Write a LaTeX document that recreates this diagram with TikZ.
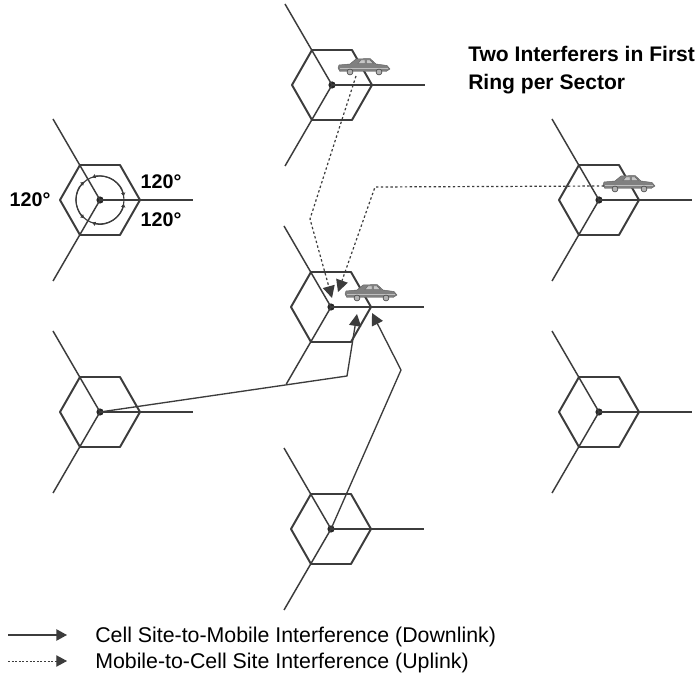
\documentclass[tikz,border=0pt]{standalone}
\usepackage{fontspec}
\setmainfont{Liberation Sans}
\usetikzlibrary{arrows.meta,calc}
\definecolor{ink}{HTML}{3C3C3C}
\tikzset{
  hexline/.style={draw=ink,line width=1.45pt,line join=round},
  spoke/.style={draw=ink,line width=1.1pt},
  sitedot/.style={circle,fill=black!85,inner sep=0pt,minimum size=5.4pt},
  solidlink/.style={draw=ink,line width=1pt,line join=round,-{Triangle[length=9pt,width=9pt,fill=ink]}},
  dotlink/.style={draw=ink,line width=0.9pt,line join=round,dash pattern=on 1.8pt off 1.8pt,-{Triangle[length=9pt,width=9pt,fill=ink]}},
  legendsolid/.style={draw=ink,line width=1.1pt,-{Triangle[length=8pt,width=8.5pt,fill=ink]}},
  legenddot/.style={draw=ink,line width=0.7pt,dash pattern=on 1.5pt off 1.2pt,-{Triangle[length=8pt,width=8.5pt,fill=ink]}},
  anglecircle/.style={draw=ink,line width=0.85pt},
  anglearc/.style={draw=ink,line width=0.85pt,{Triangle[length=2.6pt,width=3pt,fill=ink]}-{Triangle[length=2.6pt,width=3pt,fill=ink]}},
  headline/.style={font=\bfseries\fontsize{15.8pt}{18pt}\selectfont,anchor=base west,inner sep=0pt},
  anglelabel/.style={font=\bfseries\fontsize{14.8pt}{17pt}\selectfont,inner sep=0pt},
  legendtext/.style={font=\fontsize{16pt}{19pt}\selectfont,anchor=base west,inner sep=0pt},
  carbody/.style={fill=black!50,draw=black!62,line width=0.35pt,line join=round},
  carglass/.style={fill=black!22,draw=black!62,line width=0.3pt},
  carwheel/.style={circle,fill=black!30,draw=black!70,line width=0.5pt,inner sep=0pt,minimum size=4.4pt}
}
% \cellsite[lower spoke dy]{name}{x}{y}
\newcommand{\cellsite}[4][81]{%
  \node[sitedot] (#2) at (#3,#4) {};
  \coordinate (#2r) at (#3+93,#4);
  \coordinate (#2u) at (#3-47,#4-81);
  \coordinate (#2d) at (#3-0.58*#1,#4+#1);
  \draw[hexline] (#3+40,#4) -- (#3+20,#4-35) -- (#3-20,#4-35) -- (#3-40,#4) -- (#3-20,#4+35) -- (#3+20,#4+35) -- cycle;
  \draw[spoke] (#2.center) -- (#2r);
  \draw[spoke] (#2.center) -- (#2u);
  \draw[spoke] (#2.center) -- (#2d);
}
% \carshape{name}{x}{y}  (x,y = centre of car)
\newcommand{\carshape}[3]{%
  \coordinate (#1) at (#2,#3);
  \begin{scope}[shift={(#2,#3)}]
    \path[carbody] (-25,-3) -- (-14,-4) -- (-8,-9) -- (6,-9.5) -- (12,-4) -- (23,-2.5) -- (26,1) -- (22,3.5) -- (-24,3.5) -- (-26,0) -- cycle;
    \path[carglass] (-6,-4.5) -- (-3,-8) -- (1,-8) -- (1,-4.5) -- cycle;
    \path[carglass] (2.5,-4.5) -- (2.5,-8) -- (6,-8) -- (9.5,-4.5) -- cycle;
    \draw[black!25,line width=0.5pt] (-24,0) -- (24,0);
    \node[carwheel] (#1a) at (-14,4) {};
    \node[carwheel] (#1b) at (15,4) {};
  \end{scope}
}
\begin{document}
\begin{tikzpicture}[x=0.75pt,y=-0.75pt]
\useasboundingbox (0,0) rectangle (697,677);
\fill[white] (0,0) rectangle (697,677);
\cellsite{top}{332}{85}
\cellsite[77]{mid}{331}{307}
\cellsite{bot}{331}{529}
\cellsite{west}{100}{200}
\cellsite{sw}{100}{412}
\cellsite{east}{599}{200}
\cellsite{se}{599}{412}
% 120 degree circle
\draw[anglecircle] (west.center) circle[radius=18pt];
\draw[anglearc] ($(west)+(9:18pt)$) arc[start angle=9,end angle=109,radius=18pt];
\draw[anglearc] ($(west)+(131:18pt)$) arc[start angle=131,end angle=229,radius=18pt];
\draw[anglearc] ($(west)+(251:18pt)$) arc[start angle=251,end angle=351,radius=18pt];
\node[anglelabel] (ang1) at (161,182) {120°};
\node[anglelabel] (ang2) at (161,220) {120°};
\node[anglelabel] (ang3) at (30,200) {120°};
% connectors
\coordinate (topbend) at (310,219);
\coordinate (eastbend) at (375,187);
\coordinate (dotA) at (332,298);
\coordinate (dotB) at (338,292);
\coordinate (swbend) at (347,376);
\coordinate (botbend) at (401,370);
\coordinate (hitA) at (357,314);
\coordinate (hitB) at (372,313);
\carshape{cartop}{364}{68}
\carshape{carmid}{371}{294}
\carshape{careast}{629}{185}
\draw[dotlink] (cartop) ++(-8,8) -- (topbend) -- (dotA);
\draw[dotlink] (careast) ++(-25,1) -- (eastbend) -- (dotB);
\draw[solidlink] (sw.center) -- (swbend) -- (hitA);
\draw[solidlink] (bot.center) -- (botbend) -- (hitB);
% heading
\node[headline] (head1) at (468,62) {Two Interferers in First};
\node[headline] (head2) at (468,90) {Ring per Sector};
% legend
\coordinate (l1a) at (8,635);
\coordinate (l1b) at (67,635);
\coordinate (l2a) at (8,661);
\coordinate (l2b) at (67,661);
\draw[legendsolid] (l1a) -- (l1b);
\draw[legenddot] (l2a) -- (l2b);
\node[legendtext] (t1) at (95,642) {Cell Site-to-Mobile Interference (Downlink)};
\node[legendtext] (t2) at (95,668) {Mobile-to-Cell Site Interference (Uplink)};
\end{tikzpicture}
\end{document}
